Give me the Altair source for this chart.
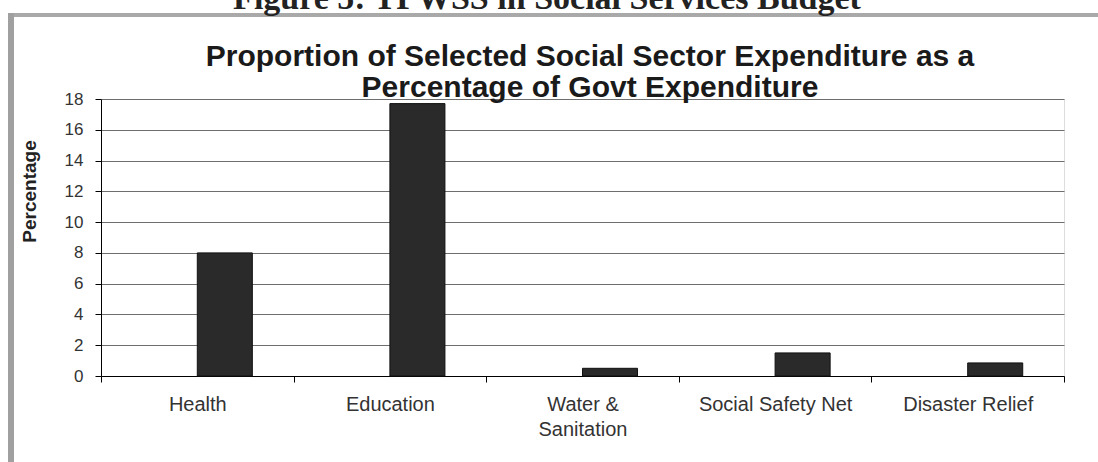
import altair as alt
import pandas as pd

categories = ["Health", "Education", "Water & Sanitation", "Social Safety Net", "Disaster Relief"]
values = [8.0, 17.7, 0.5, 1.5, 0.85]
series = ["B", "B", "B", "B", "B"]
y_ticks = [0, 2, 4, 6, 8, 10, 12, 14, 16, 18]
title_lines = ["Proportion of Selected Social Sector Expenditure as a", "Percentage of Govt Expenditure"]
caption = "Figure 5: TPWSS in Social Services Budget"

df = pd.DataFrame({"category": categories, "value": values, "series": series})
one = pd.DataFrame({"a": [0]})

FONT = "Liberation Sans"

bars = alt.Chart(df).mark_bar(color="#2a2a2a", stroke="#111111", strokeWidth=1).encode(
    x=alt.X(
        "category:N",
        sort=categories,
        scale=alt.Scale(paddingInner=0, paddingOuter=0),
        axis=alt.Axis(
            title=None,
            labelAngle=0,
            tickBand="extent",
            tickSize=6,
            tickColor="#000000",
            domainColor="#000000",
            labelFont=FONT,
            labelFontSize=20,
            labelColor="#333333",
            labelPadding=12,
            labelBaseline="top",
            labelLineHeight=25,
            labelExpr="datum.value == 'Water & Sanitation' ? ['Water &', 'Sanitation'] : datum.value",
            grid=False,
        ),
    ),
    xOffset=alt.XOffset(
        "series:N",
        scale=alt.Scale(domain=["A", "B"], paddingInner=0, paddingOuter=0.75),
    ),
    y=alt.Y(
        "value:Q",
        scale=alt.Scale(domain=[0, 18], nice=False),
        axis=alt.Axis(
            values=y_ticks,
            title="Percentage",
            titleFont=FONT,
            titleFontSize=19,
            titleFontWeight="bold",
            titleColor="#222222",
            titleAngle=270,
            titleAlign="center",
            titleBaseline="middle",
            titleX=-72,
            titleY=92,
            labelFont=FONT,
            labelFontSize=17,
            labelColor="#333333",
            labelPadding=12,
            tickSize=6,
            tickColor="#000000",
            domainColor="#000000",
            grid=True,
            gridColor="#6e6e6e",
            gridWidth=1,
        ),
    ),
)

title = alt.Chart(one).mark_text(
    font=FONT, fontSize=30, fontWeight="bold", color="#1a1a1a",
    align="center", baseline="alphabetic", lineBreak="\n", lineHeight=31,
).encode(x=alt.value(489), y=alt.value(-33), text=alt.value("\n".join(title_lines)))

cap = alt.Chart(one).mark_text(
    font="Liberation Serif", fontSize=34, fontWeight="bold", color="#222222",
    align="center", baseline="alphabetic",
).encode(x=alt.value(446), y=alt.value(-90), text=alt.value(caption))

top_bar = alt.Chart(one).mark_rule(color="#a9a9a9", strokeWidth=4).encode(
    x=alt.value(-93), x2=alt.value(997), y=alt.value(-84)
)
left_bar = alt.Chart(one).mark_rule(color="#a0a0a0", strokeWidth=6).encode(
    x=alt.value(-90), y=alt.value(-86), y2=alt.value(363)
)

chart = alt.layer(top_bar, left_bar, cap, title, bars).properties(
    width=963,
    height=277,
    autosize=alt.AutoSizeParams(type="none"),
    padding={"left": 101, "top": 99, "right": 34, "bottom": 86},
).configure_view(stroke="#7a7a7a", strokeWidth=1).configure(background="white")

chart.save("out.html", embed_options={"renderer": "svg", "actions": False})
